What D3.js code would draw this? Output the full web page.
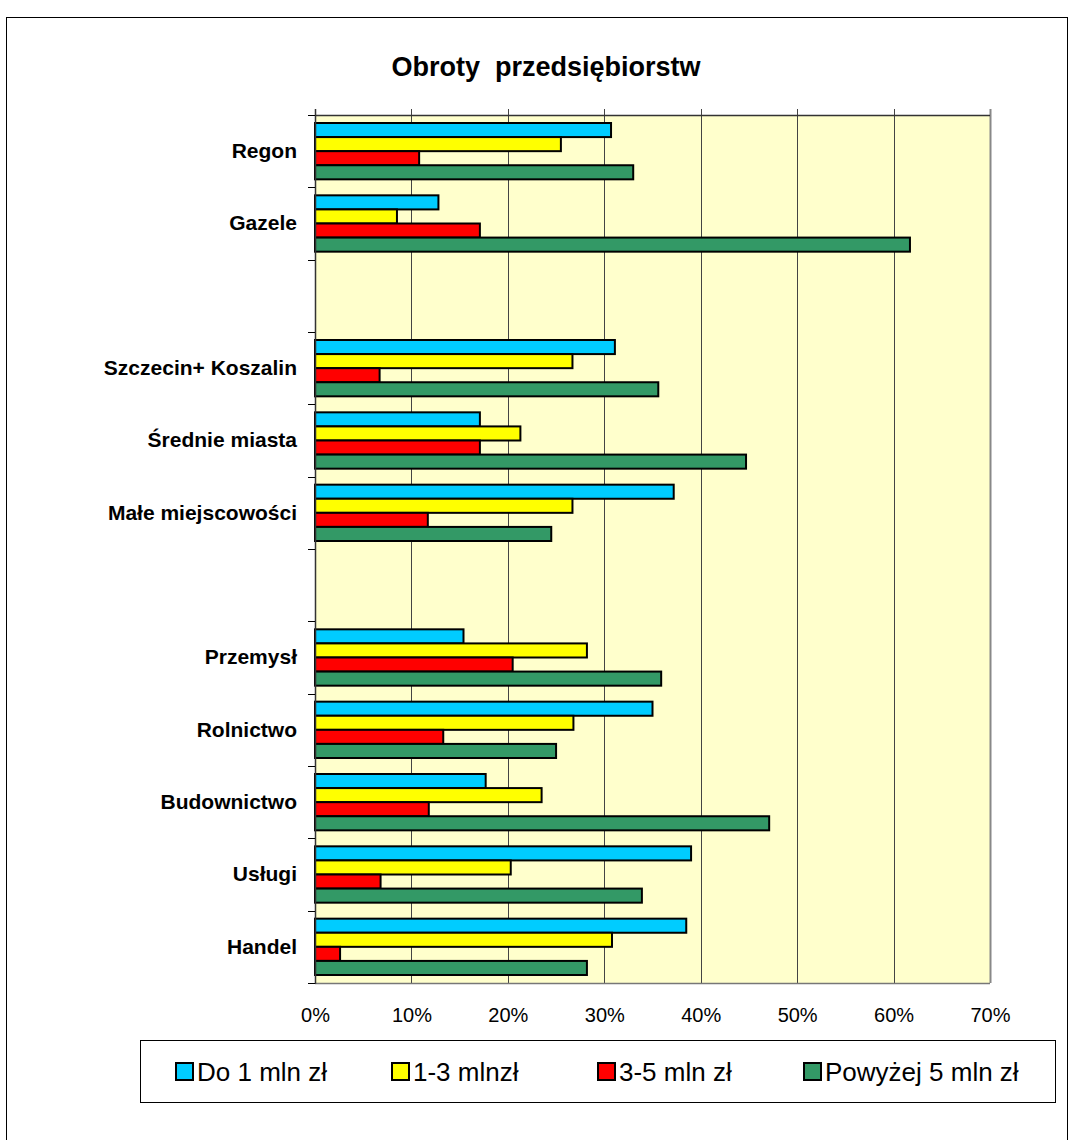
<!DOCTYPE html>
<html>
<head>
<meta charset="utf-8">
<script src="https://cdn.jsdelivr.net/npm/d3@7"></script>
<style>
  body { margin: 0; background: #fff; }
  text { font-family: "Liberation Sans", Arial, sans-serif; }
</style>
</head>
<body>
<svg width="1072" height="1140"></svg>
<script>
// categories top to bottom, "" = empty gap slot
var categories = ["Regon", "Gazele", "", "Szczecin+ Koszalin", "Średnie miasta", "Małe miejscowości", "",
                  "Przemysł", "Rolnictwo", "Budownictwo", "Usługi", "Handel"];
var seriesNames = ["Do 1 mln zł", "1-3 mlnzł", "3-5 mln zł", "Powyżej 5 mln zł"];
var seriesColors = ["#00CCFF", "#FFFF00", "#FF0000", "#339966"];

// values in %
var upTo1 = [30.7, 12.8, null, 31.1, 17.1, 37.2, null, 15.4, 35.0, 17.7, 39.0, 38.5];
var from1to3 = [25.5, 8.5, null, 26.7, 21.3, 26.7, null, 28.2, 26.8, 23.5, 20.3, 30.8];
var from3to5 = [10.8, 17.1, null, 6.7, 17.1, 11.7, null, 20.5, 13.3, 11.8, 6.8, 2.6];
var over5 = [33.0, 61.7, null, 35.6, 44.7, 24.5, null, 35.9, 25.0, 47.1, 33.9, 28.2];
var allSeries = [upTo1, from1to3, from3to5, over5];

var xTicks = [0, 10, 20, 30, 40, 50, 60, 70];

var svg = d3.select("svg");

// outer chart frame
svg.append("rect")
  .attr("x", 6.5).attr("y", 17.5)
  .attr("width", 1061).attr("height", 1140)
  .attr("fill", "none").attr("stroke", "#000").attr("stroke-width", 1);

var margin = {left: 315, top: 115, right: 990, bottom: 983};

var x = d3.scaleLinear().domain([0, 70]).range([margin.left, margin.right]);
var y = d3.scaleBand().domain(d3.range(categories.length)).range([margin.top, margin.bottom]);
var bw = y.bandwidth();
var y1 = d3.scaleBand().domain(d3.range(seriesNames.length)).range([8, bw - 8]);

// plot background
svg.append("rect")
  .attr("x", margin.left).attr("y", margin.top)
  .attr("width", margin.right - margin.left).attr("height", margin.bottom - margin.top)
  .attr("fill", "#FFFFCC");

// vertical gridlines (and small ticks above)
svg.append("g").selectAll("line")
  .data(xTicks.slice(1))
  .enter().append("line")
  .attr("x1", d => Math.round(x(d)) + 0.5).attr("x2", d => Math.round(x(d)) + 0.5)
  .attr("y1", margin.top - 6).attr("y2", margin.bottom)
  .attr("stroke", (d, i) => d == 70 ? "#888" : "#444").attr("stroke-width", d => d == 70 ? 2 : 1);

// top & bottom border
svg.append("line")
  .attr("x1", margin.left).attr("x2", margin.right)
  .attr("y1", margin.top + 0.5).attr("y2", margin.top + 0.5)
  .attr("stroke", "#333").attr("stroke-width", 1.5);
svg.append("line")
  .attr("x1", margin.left).attr("x2", margin.right)
  .attr("y1", margin.bottom + 0.5).attr("y2", margin.bottom + 0.5)
  .attr("stroke", "#777").attr("stroke-width", 1.5);

// bars
var groups = svg.append("g").selectAll("g")
  .data(categories)
  .enter().append("g")
  .attr("transform", (d, i) => "translate(0," + y(i) + ")");

groups.selectAll("rect")
  .data((d, i) => allSeries.map((s, k) => ({k: k, v: s[i]})).filter(e => e.v != null))
  .enter().append("rect")
  .attr("x", x(0))
  .attr("y", d => y1(d.k))
  .attr("width", d => x(d.v) - x(0))
  .attr("height", y1.bandwidth())
  .attr("fill", d => seriesColors[d.k])
  .attr("stroke", "#000").attr("stroke-width", 2);

// category axis
var yAxis = d3.axisLeft(y).tickSize(0).tickFormat(i => categories[i]);
var ya = svg.append("g").attr("transform", "translate(" + (margin.left - 15) + ",0)").call(yAxis);
ya.select(".domain").remove();
ya.selectAll("text").attr("font-size", 21).attr("font-weight", "bold").attr("fill", "#000")
  .attr("font-family", "Liberation Sans, Arial, sans-serif");

// left axis line + boundary ticks
svg.append("line")
  .attr("x1", margin.left + 0.5).attr("x2", margin.left + 0.5)
  .attr("y1", margin.top - 6).attr("y2", margin.bottom + 1)
  .attr("stroke", "#333").attr("stroke-width", 1.5);
var bounds = d3.range(categories.length + 1).map(i => i < categories.length ? y(i) : margin.bottom);
svg.append("g").selectAll("line")
  .data(bounds)
  .enter().append("line")
  .attr("x1", margin.left - 7).attr("x2", margin.left)
  .attr("y1", d => Math.round(d) + 0.5).attr("y2", d => Math.round(d) + 0.5)
  .attr("stroke", "#000");

// value axis labels at bottom
var xAxis = d3.axisBottom(x).tickValues(xTicks).tickSize(0).tickFormat(d => d + "%");
var xa = svg.append("g").attr("transform", "translate(0," + (margin.bottom + 22) + ")").call(xAxis);
xa.select(".domain").remove();
xa.selectAll("text").attr("font-size", 20).attr("fill", "#000")
  .attr("font-family", "Liberation Sans, Arial, sans-serif");

// title
svg.append("text")
  .attr("x", 546).attr("y", 76)
  .attr("text-anchor", "middle")
  .attr("font-size", 27).attr("font-weight", "bold")
  .style("white-space", "pre")
  .text("Obroty  przedsiębiorstw");

// legend
var legend = svg.append("g");
legend.append("rect")
  .attr("x", 140.5).attr("y", 1040.5).attr("width", 915).attr("height", 62)
  .attr("fill", "#fff").attr("stroke", "#000");
var legendX = [176, 392, 598, 804];
var li = legend.selectAll("g.item")
  .data(seriesNames)
  .enter().append("g").attr("class", "item")
  .attr("transform", (d, i) => "translate(" + legendX[i] + ",1072)");
li.append("rect")
  .attr("x", 0).attr("y", -9).attr("width", 17).attr("height", 17)
  .attr("fill", (d, i) => seriesColors[i]).attr("stroke", "#000").attr("stroke-width", 2);
li.append("text")
  .attr("x", 21).attr("y", 9)
  .attr("font-size", 26)
  .text(d => d);
</script>
</body>
</html>
